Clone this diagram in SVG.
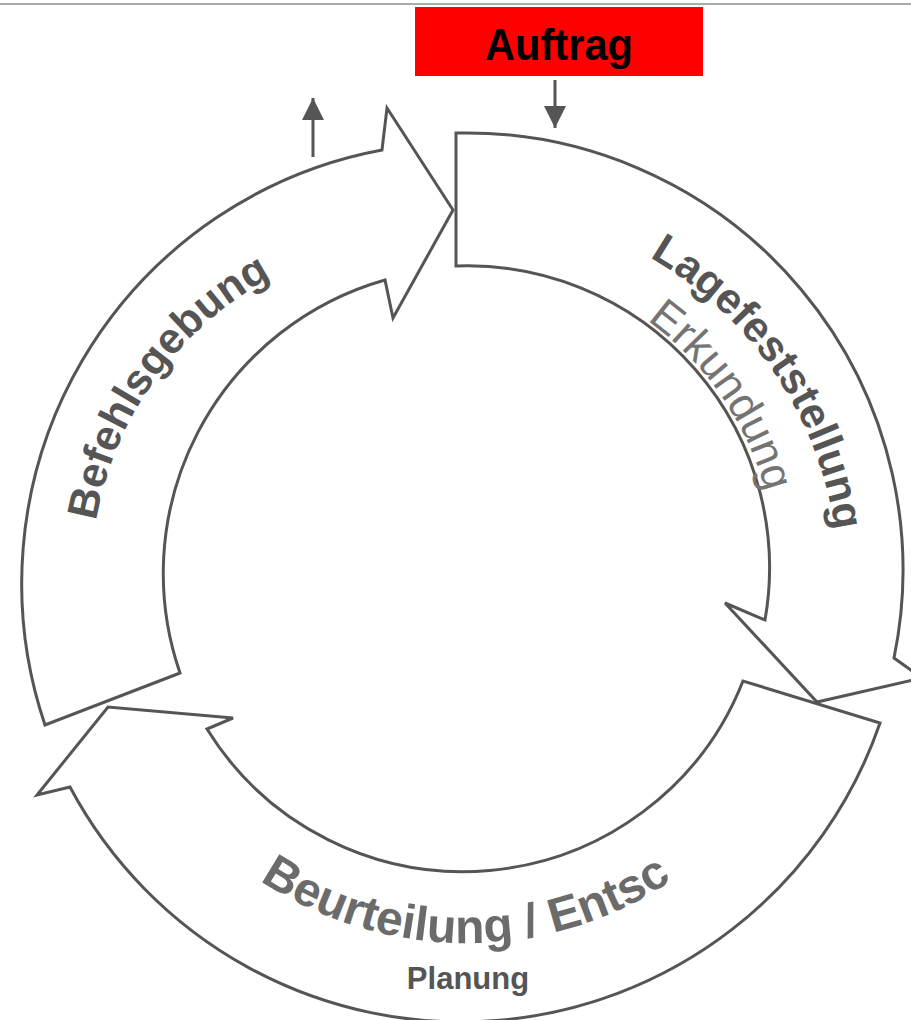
<svg xmlns="http://www.w3.org/2000/svg" width="911" height="1020" viewBox="0 0 911 1020">
<style>
.shape{fill:#fff;stroke:#555;stroke-width:3;stroke-linejoin:miter}
.lbl{font-family:"Liberation Sans",Arial,sans-serif}
.b{font-weight:bold}
.conn{stroke:#555;stroke-width:3;fill:none}
</style>
<defs>
<marker id="head" viewBox="0 0 22 22" refX="22" refY="11" markerWidth="22" markerHeight="22" markerUnits="userSpaceOnUse" orient="auto">
<path d="M0,0 L22,11 L0,22 Z" fill="#555"/>
</marker>
<path id="pLage" d="M508.6,210.4 A376 376 0 0 1 826.5,678.8"/>
<path id="pErk" d="M495.1,263.4 A310 310 0 0 1 764.9,654.3"/>
<path id="pBef" d="M101.5,662.9 A342 342 0 0 1 408,237.9"/>
<path id="pBeu" d="M144.7,757.5 A371 371 0 0 0 787.3,757.5"/>
</defs>
<rect x="0" y="3" width="911" height="2" fill="#aaa"/>

<g id="auftrag">
<rect x="415" y="7" width="288" height="69" fill="#ff0000"/>
<text class="lbl b" x="559" y="60" font-size="44" text-anchor="middle" fill="#000" textLength="148" lengthAdjust="spacingAndGlyphs">Auftrag</text>
</g>

<g id="lagefeststellung">
<path class="shape" d="M456,133 A437 437 0 0 1 894,658 L922,678 L817,702 L725,603 L765,620 A302 302 0 0 0 456,266 Z"/>
<text class="lbl b" font-size="43" fill="#555"><textPath href="#pLage" startOffset="50%" text-anchor="middle">Lagefeststellung</textPath></text>
<text class="lbl" font-size="44" fill="#747474"><textPath href="#pErk" startOffset="50%" text-anchor="middle">Erkundung</textPath></text>
</g>

<g id="beurteilung">
<path class="shape" d="M880,723 A443 443 0 0 1 70,787 L37,795 L108,707 L233,718 L207,729 A301 301 0 0 0 743,681 Z"/>
<text class="lbl b" font-size="48" fill="#6b6b6b"><textPath href="#pBeu" startOffset="50%" text-anchor="middle">Beurteilung / Entsc</textPath></text>
<text class="lbl b" x="468" y="989" font-size="31" text-anchor="middle" fill="#555">Planung</text>
</g>

<g id="befehlsgebung">
<path class="shape" d="M45,725 A441 441 0 0 1 382,150 L387,108 L453,210 L393,318 L385,280 A305 305 0 0 0 180,673 Z"/>
<text class="lbl b" font-size="43" fill="#555"><textPath href="#pBef" startOffset="50%" text-anchor="middle">Befehlsgebung</textPath></text>
</g>

<g id="connectors">
<line class="conn" x1="313" y1="157" x2="313" y2="98" marker-end="url(#head)"/>
<line class="conn" x1="555" y1="80" x2="555" y2="128" marker-end="url(#head)"/>
</g>
</svg>
